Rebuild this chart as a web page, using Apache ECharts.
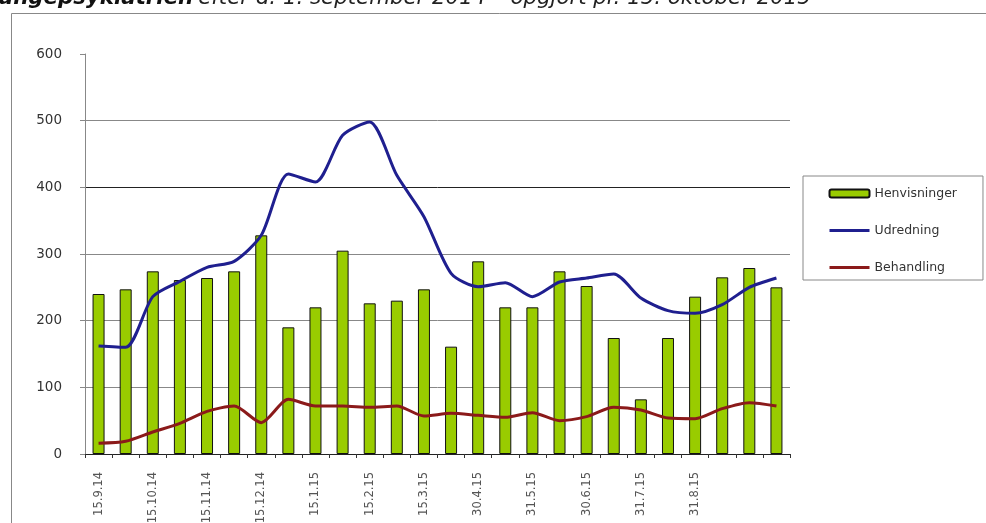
<!DOCTYPE html>
<html>
<head>
  <meta charset="utf-8">
  <title>Henvisninger, udredning og behandling</title>
  <script src="https://cdn.jsdelivr.net/npm/echarts@6/dist/echarts.min.js"></script>
</head>
<body style="margin:0;background:#fff;">
<div id="main" style="width:986px;height:523px;"></div>
<script type="text/javascript">
// datoer (kun hver anden vises paa aksen, de sidste uden etiket)
var dates = ['15.9.14','30.9.14','15.10.14','31.10.14','15.11.14','30.11.14','15.12.14','31.12.14',
  '15.1.15','31.1.15','15.2.15','28.2.15','15.3.15','15.4.15','30.4.15','15.5.15','31.5.15','15.6.15',
  '30.6.15','15.7.15','31.7.15','15.8.15','31.8.15','15.9.15','30.9.15','15.10.15'];
var henvisninger = [240,247,274,261,264,274,328,190,220,305,226,230,247,161,289,220,220,274,252,174,82,174,236,265,279,250];
var udredning = [162,160,236,259,280,289,328,420,408,478,498,418,356,271,251,257,236,258,264,270,234,215,211,224,250,264];
var behandling = [16,19,33,46,64,72,47,82,72,72,70,72,57,61,58,55,62,50,56,70,66,54,53,68,77,72];
var yTicks = [0,100,200,300,400,500,600];

var blaa = '#1f1f8f', roed = '#8b1a1a';

var myChart = echarts.init(document.getElementById('main'));

var option = {
    animation: false,
    backgroundColor: '#fff',
    title: {
        text: '{b|ungepsykiatrien} {i|efter d. 1. september 2014 – opgjort pr. 15. oktober 2015}',
        left: -2,
        top: -12,
        padding: 0,
        textStyle: {
            fontWeight: 'normal',
            rich: {
                b: {fontFamily: 'DejaVu Sans', fontSize: 21.3, fontStyle: 'italic', fontWeight: 'bold', color: '#111'},
                i: {fontFamily: 'DejaVu Sans', fontSize: 21.3, fontStyle: 'italic', fontWeight: 'normal', color: '#222'}
            }
        }
    },
    graphic: [{
        type: 'rect',
        left: 9, top: 11,
        shape: {width: 990, height: 540},
        style: {fill: 'none', stroke: '#888', lineWidth: 1},
        silent: true
    }],
    legend: {
        orient: 'vertical',
        left: 803,
        top: 176,
        padding: [10, 26, 5, 25],
        itemGap: 22,
        itemWidth: 40,
        itemHeight: 8,
        borderColor: '#888',
        borderWidth: 1,
        textStyle: {fontFamily: 'DejaVu Sans', fontSize: 12.5, color: '#333', lineHeight: 15},
        data: [
            {name: 'Henvisninger'},
            {name: 'Udredning', itemStyle: {opacity: 0}, lineStyle: {color: blaa, width: 3}},
            {name: 'Behandling', itemStyle: {opacity: 0}, lineStyle: {color: roed, width: 3}}
        ]
    },
    grid: {left: 85, right: 196, top: 54, bottom: 69, outerBoundsMode: 'none', containLabel: false},
    xAxis: {
        type: 'category',
        data: dates,
        boundaryGap: true,
        axisLine: {lineStyle: {color: '#222', width: 1}},
        axisTick: {show: true, interval: 0, length: 4, lineStyle: {color: '#333'}},
        axisLabel: {
            rotate: 90,
            margin: 18,
            fontFamily: 'DejaVu Sans',
            fontSize: 11.5,
            color: '#555',
            interval: function (i) { return i % 2 === 0 && i <= 22; }
        }
    },
    yAxis: {
        type: 'value',
        min: yTicks[0],
        max: yTicks[yTicks.length - 1],
        interval: 100,
        axisLine: {show: true, lineStyle: {color: '#888'}},
        axisTick: {show: true, length: 5, lineStyle: {color: '#888'}},
        axisLabel: {margin: 23, fontFamily: 'DejaVu Sans', fontSize: 13.5, color: '#333'},
        splitLine: {
            show: true,
            showMaxLine: false,
            lineStyle: {color: ['#888', '#888', '#888', '#888', '#222', '#888', '#888'], width: 1}
        }
    },
    series: [{
        name: 'Henvisninger',
        type: 'bar',
        data: henvisninger,
        barWidth: 12,
        itemStyle: {color: '#99cc00', borderColor: '#111', borderWidth: 1}
    }, {
        name: 'Udredning',
        type: 'line',
        data: udredning,
        smooth: 0.25,
        symbol: 'none',
        lineStyle: {color: blaa, width: 3},
        itemStyle: {color: blaa}
    }, {
        name: 'Behandling',
        type: 'line',
        data: behandling,
        smooth: 0.25,
        symbol: 'none',
        lineStyle: {color: roed, width: 3},
        itemStyle: {color: roed}
    }]
};

myChart.setOption(option);
</script>
</body>
</html>
